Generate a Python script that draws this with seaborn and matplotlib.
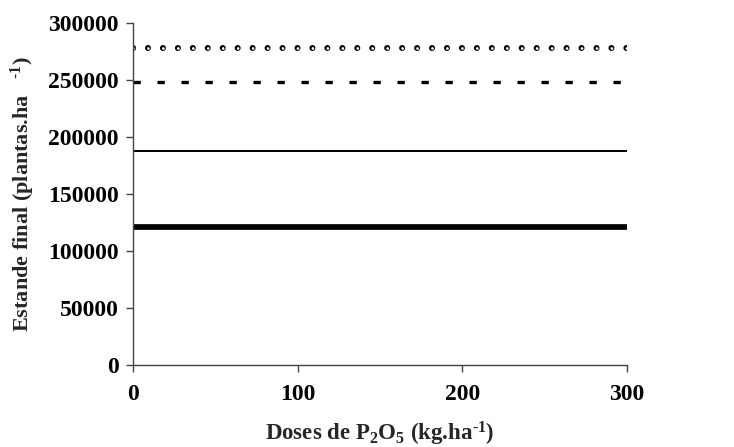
import matplotlib
matplotlib.use("Agg")
import matplotlib.pyplot as plt
import seaborn as sns
import pandas as pd

doses = [0, 300]
serie_circulos = [278000, 278000]
serie_tracos = [248000, 248000]
serie_fina = [187500, 187500]
serie_grossa = [121000, 121000]
xticks = [0, 100, 200, 300]
yticks = [0, 50000, 100000, 150000, 200000, 250000, 300000]

sns.set_theme(style="white")
plt.rcParams['font.family'] = ['Liberation Serif', 'DejaVu Serif']
plt.rcParams['font.weight'] = 'bold'
plt.rcParams['mathtext.fontset'] = 'custom'
plt.rcParams['mathtext.rm'] = 'Liberation Serif:bold'
plt.rcParams['mathtext.it'] = 'Liberation Serif:bold'
plt.rcParams['mathtext.bf'] = 'Liberation Serif:bold'

fig = plt.figure(figsize=(7.34, 4.47), dpi=100)
ax = fig.add_axes([0.181, 0.1834, 0.673, 0.7656])

df = pd.DataFrame({"dose": doses, "c": serie_circulos, "t": serie_tracos,
                   "f": serie_fina, "g": serie_grossa})

# thick line
sns.lineplot(data=df, x="dose", y="g", ax=ax, color="black", linewidth=4.1)
ax.lines[-1].set_solid_capstyle("round")
# thin line
sns.lineplot(data=df, x="dose", y="f", ax=ax, color="black", linewidth=1.4)
ax.lines[-1].set_solid_capstyle("butt")
# dashed line
sns.lineplot(data=df, x="dose", y="t", ax=ax, color="black", linewidth=2.4)
ax.lines[-1].set_dashes((2.2, 5.0))
ax.lines[-1].set_dash_capstyle("butt")
# open-circle dotted line: black round dots with white smaller dots on top
period_px = 14.95
outer_px, inner_px = 6.0, 2.8
pt = 72 / 100
sns.lineplot(data=df, x="dose", y="c", ax=ax, color="black", linewidth=outer_px * pt)
ax.lines[-1].set_dashes((0.01, period_px / outer_px - 0.01))
ax.lines[-1].set_dash_capstyle("round")
sns.lineplot(data=df, x="dose", y="c", ax=ax, color="white", linewidth=inner_px * pt)
ax.lines[-1].set_dashes((0.01, period_px / inner_px - 0.01))
ax.lines[-1].set_dash_capstyle("round")

ax.set_xlim(0, 300)
ax.set_ylim(0, 300000)
ax.set_xticks(xticks)
ax.set_yticks(yticks)
ax.set_xticklabels([str(v) for v in xticks], fontsize=17, fontweight="bold")
ax.set_yticklabels([str(v) for v in yticks], fontsize=17, fontweight="bold")
ax.tick_params(axis="both", direction="out", length=5, width=1, color="#444444",
               left=True, bottom=True, labelcolor="black")
ax.tick_params(axis="y", pad=5)
ax.tick_params(axis="x", pad=9)
for s in ["top", "right"]:
    ax.spines[s].set_visible(False)
for s in ["left", "bottom"]:
    ax.spines[s].set_color("#444444")
    ax.spines[s].set_linewidth(1)

ax.set_xlabel("Doses de P$_2$O$_5$ (kg.ha$^{\u20101}$)", fontsize=16.5, fontweight="bold",
              labelpad=10)
ax.set_ylabel("Estande final (plantas.ha   $^{\u20101}$)", fontsize=16, fontweight="bold",
              labelpad=8)

fig.savefig("out.png", dpi=100)
